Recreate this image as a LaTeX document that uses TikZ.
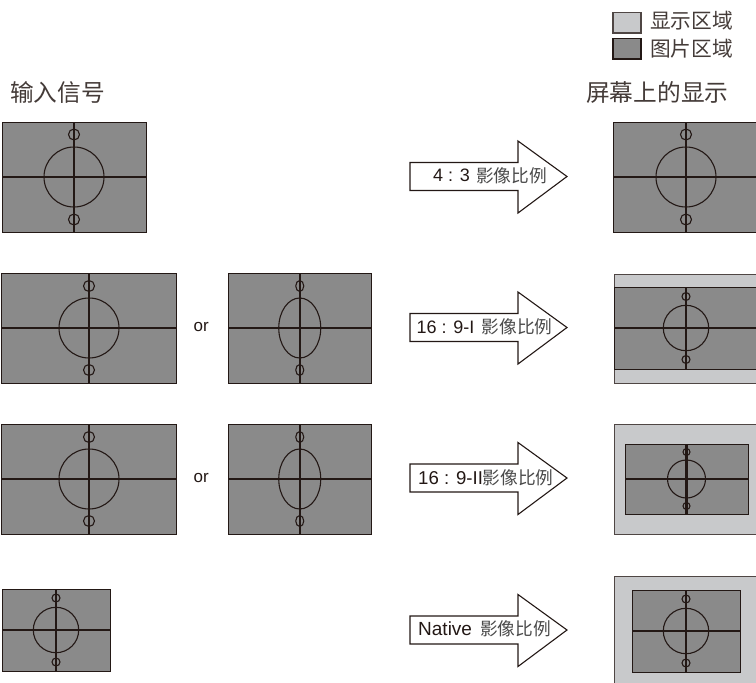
\documentclass[tikz,border=0pt]{standalone}
\usepackage{fontspec}
\setmainfont{Liberation Sans}
\newfontfamily\cjk{Noto Sans CJK SC}
\definecolor{ink}{HTML}{231815}
\definecolor{pic}{HTML}{8A8A8A}
\definecolor{disp}{HTML}{C8C9CB}
\definecolor{cjkgray}{HTML}{4A4A4A}
\tikzset{
  picarea/.style={fill=pic,draw=ink,line width=0.95pt},
  disparea/.style={fill=disp,draw=ink!80,line width=0.95pt},
  crossline/.style={draw=ink,line width=2.2pt},
  ringline/.style={draw=ink,line width=1.1pt},
  arrowbox/.style={fill=white,draw=ink,line width=1.1pt,line join=miter},
  lab/.style={inner sep=0pt,anchor=west,text=ink,font=\fontsize{18}{18}\selectfont},
  cjklab/.style={inner sep=0pt,anchor=west,text=cjkgray,font=\cjk\fontsize{17.7}{18}\selectfont},
  title/.style={inner sep=0pt,anchor=west,text=ink!85,font=\cjk\fontsize{23.7}{24}\selectfont},
  legendtext/.style={inner sep=0pt,anchor=west,text=ink!85,font=\cjk\fontsize{20.7}{21}\selectfont}
}
% x1 x2 y1 y2 rx ry srx sry dy
\newcommand{\panelbox}[9]{%
  \path[picarea] (#1,#3) rectangle (#2,#4);
  \path[ringline] ({(#1+#2)/2},{(#3+#4)/2}) ellipse [x radius=#5,y radius=#6];
  \path[ringline] ({(#1+#2)/2},{(#3+#4)/2-#9}) ellipse [x radius=#7,y radius=#8];
  \path[ringline] ({(#1+#2)/2},{(#3+#4)/2+#9}) ellipse [x radius=#7,y radius=#8];
  \path[crossline] (#1,{(#3+#4)/2}) -- (#2,{(#3+#4)/2});
  \path[crossline] ({(#1+#2)/2},#3) -- ({(#1+#2)/2},#4);
}
\newcommand{\bigarrow}[1]{%
  \path[arrowbox] (410,#1-14) -- (518,#1-14) -- (518,#1-35.5) -- (567,#1) -- (518,#1+36.5) -- (518,#1+14) -- (410,#1+14) -- cycle;
}
\begin{document}
\begin{tikzpicture}[x=1pt,y=-1pt]
\useasboundingbox (0,0) rectangle (756,683);
\clip (0,0) rectangle (756,683);

% legend
\path[disparea,line width=1.3pt] (613,12.5) rectangle (641,33);
\path[picarea,line width=1.3pt] (613,38.5) rectangle (641,59);
\node[legendtext] (legA) at (650,21) {显示区域};
\node[legendtext] (legB) at (650,49) {图片区域};

% titles
\node[title] (titleIn) at (10,92.5) {输入信号};
\node[title] (titleOut) at (586,92.5) {屏幕上的显示};

% inputs
\panelbox{2}{146}{122}{232}{30}{30}{5.5}{5.5}{42.5}
\panelbox{1.5}{176.5}{273}{383}{30}{30}{5.5}{5.5}{42}
\panelbox{228.5}{371}{273}{383}{21}{30}{4}{5.5}{42}
\panelbox{1.5}{176.5}{424}{534}{30}{30}{5.5}{5.5}{42}
\panelbox{228.5}{371}{424}{534}{21}{30}{4}{5.5}{42}
\panelbox{2}{110}{589}{671}{22.7}{22.7}{4}{4}{32}
\node[lab,font=\fontsize{17}{17}\selectfont] (orA) at (193.5,327) {or};
\node[lab,font=\fontsize{17}{17}\selectfont] (orB) at (193.5,478) {or};

% arrows
\bigarrow{176.5}
\bigarrow{327.5}
\bigarrow{478}
\bigarrow{630}
\node[lab] (tA) at (433,175.5) {4 : 3};
\node[cjklab] (cA) at (476,175.5) {影像比例};
\node[lab] (tB) at (416.5,327) {16 : 9-I};
\node[cjklab] (cB) at (481.5,327) {影像比例};
\node[lab,font=\fontsize{18.6}{19}\selectfont] (tC) at (418,478) {16 : 9-II};
\node[cjklab] (cC) at (482.5,478) {影像比例};
\node[lab,font=\fontsize{19}{19}\selectfont] (tD) at (418,629) {Native};
\node[cjklab] (cD) at (480,629) {影像比例};

% outputs
\panelbox{613.5}{758.5}{122}{232}{30}{30}{5.5}{5.5}{42.5}
\path[disparea] (614,274) rectangle (770,383);
\panelbox{614}{758}{287}{369}{22.7}{22.7}{4}{4}{31.5}
\path[disparea] (614,424) rectangle (770,534);
\panelbox{625}{748}{444}{514}{19}{19}{3.5}{3.5}{27}
\path[disparea] (614,576) rectangle (770,690);
\panelbox{632}{740}{590}{672}{22.7}{22.7}{4}{4}{32}
\end{tikzpicture}
\end{document}
